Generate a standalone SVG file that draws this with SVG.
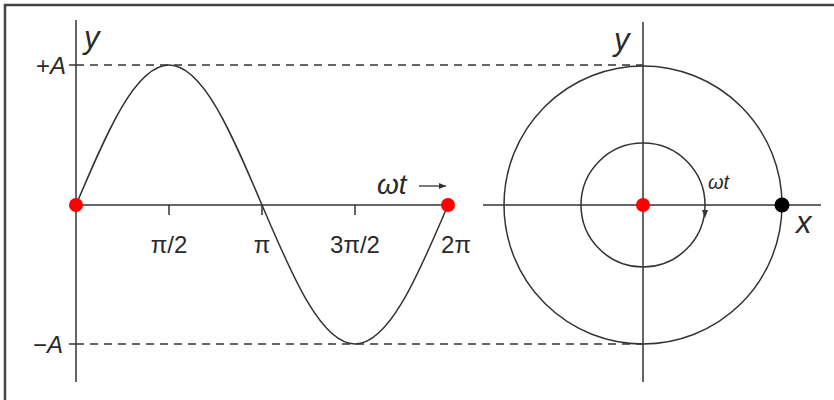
<svg xmlns="http://www.w3.org/2000/svg" width="834" height="400" viewBox="0 0 834 400">
<style>
.ln{stroke:#333;stroke-width:1.5;fill:none}
.dash{stroke:#333;stroke-width:1.5;fill:none;stroke-dasharray:8,6}
.t{font-family:"Liberation Sans",Arial,sans-serif;fill:#2a2a2a}
.it{font-style:italic}
</style>
<defs>
<marker id="ah" markerWidth="8" markerHeight="8" refX="7" refY="4" orient="auto" markerUnits="userSpaceOnUse">
<path d="M0,1 L7,4 L0,7 Z" fill="#333"/>
</marker>
</defs>
<rect width="834" height="400" fill="#fff"/>
<path d="M5,400 V5 H834" stroke="#444" stroke-width="2.5" fill="none"/>
<g id="connectors">
<line class="dash" x1="76" y1="65" x2="643" y2="65"/>
<line class="dash" x1="76" y1="344" x2="643" y2="344"/>
</g>
<g id="wave">
<line class="ln" x1="76" y1="20" x2="76" y2="382"/>
<line class="ln" x1="76" y1="205" x2="450" y2="205"/>
<line class="ln" x1="69" y1="65" x2="76" y2="65"/>
<line class="ln" x1="69" y1="344" x2="76" y2="344"/>
<line class="ln" x1="169" y1="205" x2="169" y2="215"/>
<line class="ln" x1="262" y1="205" x2="262" y2="215"/>
<line class="ln" x1="355" y1="205" x2="355" y2="215"/>
<path class="ln" d="M76,205 C106.4,133.2 135.3,65 169,65 S231.6,133.2 262,205 S321.4,344 355,344 S417.6,276.8 448,205"/>
<circle cx="76" cy="205" r="7" fill="#f00"/>
<circle cx="448" cy="205" r="7" fill="#f00"/>
<text class="t it" x="84" y="48" font-size="31">y</text>
<text class="t" x="36" y="74" font-size="24">+<tspan class="it">A</tspan></text>
<text class="t" x="33" y="353" font-size="24">−<tspan class="it">A</tspan></text>
<text class="t" x="169" y="253" font-size="24" text-anchor="middle">π/2</text>
<text class="t" x="262" y="253" font-size="24" text-anchor="middle">π</text>
<text class="t" x="355" y="253" font-size="24" text-anchor="middle">3π/2</text>
<text class="t" x="456" y="253" font-size="24" text-anchor="middle">2π</text>
<text class="t it" x="377" y="194" font-size="28">ωt</text>
<line x1="419" y1="186" x2="446" y2="186" stroke="#333" stroke-width="1.3" marker-end="url(#ah)"/>
</g>
<g id="circle">
<line class="ln" x1="643" y1="22" x2="643" y2="382"/>
<line class="ln" x1="483" y1="205" x2="821" y2="205"/>
<circle class="ln" cx="643" cy="205" r="139"/>
<circle class="ln" cx="643" cy="205" r="62"/>
<path d="M702,210 L705,218 L708,210 Z" fill="#333"/>
<circle cx="643" cy="205" r="7" fill="#f00"/>
<circle cx="782" cy="205" r="7.5" fill="#000"/>
<text class="t it" x="614" y="50" font-size="31">y</text>
<text class="t it" x="796" y="233" font-size="31">x</text>
<text class="t it" x="708" y="189" font-size="20">ωt</text>
</g>
</svg>
